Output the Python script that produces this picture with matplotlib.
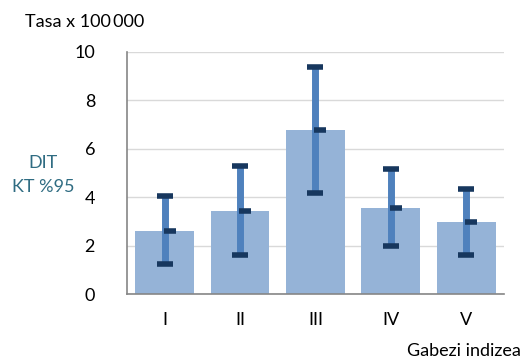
import matplotlib.pyplot as plt
import matplotlib.transforms as mtransforms
import numpy as np

plt.rcParams['font.family'] = ['Lato', 'DejaVu Sans']

categories = ['I', 'II', 'III', 'IV', 'V']
rates = [2.62, 3.45, 6.76, 3.57, 2.97]
ci_low = [1.23, 1.61, 4.16, 2.00, 1.63]
ci_high = [4.04, 5.30, 9.37, 5.15, 4.34]

fig = plt.figure(figsize=(5.26, 3.6), dpi=100)
ax = fig.add_axes([0.2414, 0.1833, 0.7166, 0.6723])

x = np.arange(len(categories))
ax.bar(x, rates, width=0.78, color='#95B3D7', zorder=2)

# confidence interval lines with dark caps
ax.vlines(x, ci_low, ci_high, color='#4F81BD', linewidth=5, zorder=3)
for ends in (ci_low, ci_high):
    ax.plot(x, ends, linestyle='none', marker='_', markersize=12,
            markeredgewidth=4, color='#17375E', zorder=4)

# point estimate, slightly shifted right
shifted = mtransforms.offset_copy(ax.transData, fig=fig, x=5, y=0, units='dots')
ax.plot(x, rates, linestyle='none', marker='_', markersize=8.5,
        markeredgewidth=4, color='#17375E', zorder=5, transform=shifted)

ax.set_xlim(-0.5, len(categories) - 0.5)
ax.set_ylim(0, 10)
ax.set_yticks([0, 2, 4, 6, 8, 10])
ax.set_xticks(x)
ax.set_xticklabels(categories)
ax.tick_params(length=0, labelsize=13, colors='black')
ax.tick_params(axis='x', pad=13)
ax.tick_params(axis='y', pad=23)
ax.grid(axis='y', color='#D9D9D9', linewidth=1, zorder=0)
ax.set_axisbelow(True)
for side in ('top', 'right'):
    ax.spines[side].set_visible(False)
for side in ('left', 'bottom'):
    ax.spines[side].set_color('#868686')
    ax.spines[side].set_linewidth(1.2)

fig.text(25 / 526, 1 - 22 / 360, 'Tasa x 100\u2009000', fontsize=13, va='center', ha='left')
fig.text(43 / 526, 1 - 175 / 360, 'DIT\nKT %95', fontsize=13, color='#2F6C82',
         ha='center', va='center', linespacing=1.6)
fig.text(521 / 526, 1 - 351 / 360, 'Gabezi indizea', fontsize=13, ha='right', va='center')

fig.savefig('out.png', dpi=100)
